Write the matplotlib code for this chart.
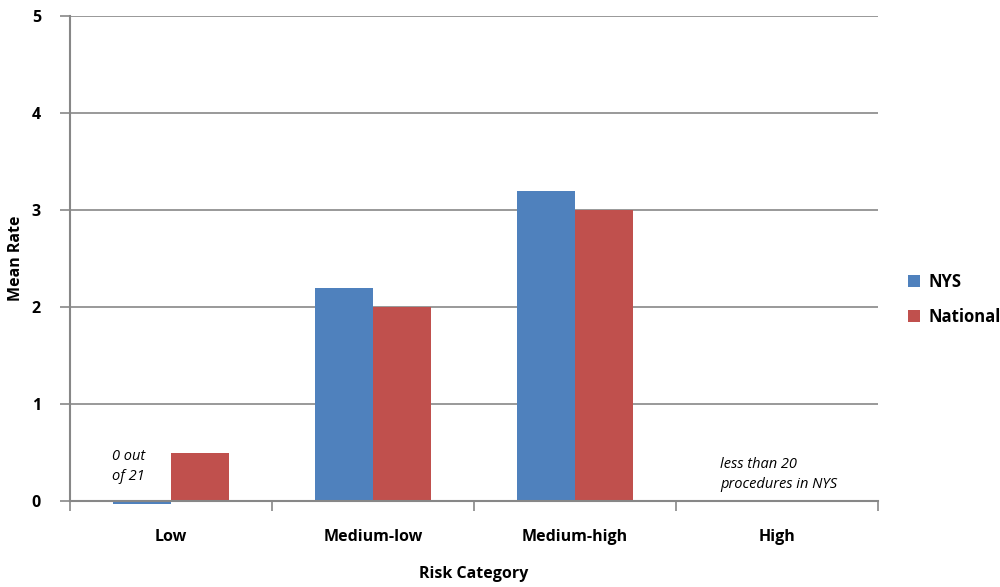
import matplotlib
matplotlib.use("Agg")
import matplotlib.pyplot as plt
import numpy as np

categories = ["Low", "Medium-low", "Medium-high", "High"]
nys = [-0.03, 2.2, 3.2, np.nan]
national = [0.5, 2.0, 3.0, np.nan]
series_names = ["NYS", "National"]
colors = ["#4F81BD", "#C0504D"]

plt.rcParams['font.family'] = ['Open Sans', 'DejaVu Sans']

fig = plt.figure(figsize=(10, 5.87), dpi=100)
ax = fig.add_axes([0.07, 0.1465, 0.808, 0.8262])

x = np.arange(len(categories))
w = 0.287
b1 = ax.bar(x - w/2, nys, w, color=colors[0], label=series_names[0], zorder=3)
b2 = ax.bar(x + w/2, national, w, color=colors[1], label=series_names[1], zorder=3)
for p in list(b1) + list(b2):
    p.set_clip_on(False)

ax.set_xlim(-0.5, 3.5)
ax.set_ylim(0, 5)
ax.set_yticks(range(6))
ax.set_yticklabels([str(i) for i in range(6)], fontsize=11.5, fontweight='bold')
ax.yaxis.grid(True, color='#878787', linewidth=1.2, zorder=0)
ax.set_axisbelow(True)

ax.set_xticks(x)
ax.set_xticklabels(categories, fontsize=11.5, fontweight='bold')
ax.set_xticks(np.arange(-0.5, 4.0, 1.0), minor=True)
ax.tick_params(axis='x', which='major', length=0, pad=20)
ax.tick_params(axis='x', which='minor', length=7, width=1.2, color='#878787', direction='out')
ax.tick_params(axis='y', length=7, width=1.2, color='#878787', direction='out', pad=14)

for s in ['top', 'right']:
    ax.spines[s].set_visible(False)
for s in ['left', 'bottom']:
    ax.spines[s].set_color('#878787')
    ax.spines[s].set_linewidth(1.5)
ax.spines['bottom'].set_zorder(4)

ax.set_xlabel("Risk Category", fontsize=11.5, fontweight='bold', labelpad=15)
ax.set_ylabel("Mean Rate", fontsize=11.5, fontweight='bold')
ax.yaxis.set_label_coords(-0.057, 0.5)

ax.text(-0.29, 0.36, "0 out\nof 21", fontsize=10.5, style='italic', ha='left', va='center', linespacing=1.45)
ax.text(2.72, 0.27, "less than 20\nprocedures in NYS", fontsize=10.5, style='italic', ha='left', va='center', linespacing=1.45)

leg = fig.legend(loc='center left', bbox_to_anchor=(0.893, 0.49), frameon=False,
                 prop={'size': 12, 'weight': 'bold'}, handlelength=0.7, handleheight=0.7,
                 handletextpad=0.5, labelspacing=1.0)

fig.savefig("out.png", dpi=100)
